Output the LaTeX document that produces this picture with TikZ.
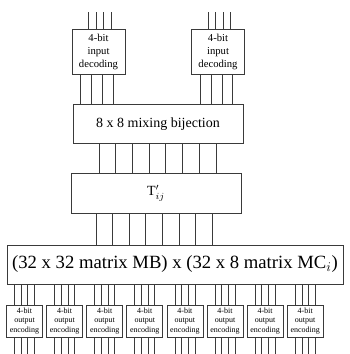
\documentclass[tikz,border=0pt]{standalone}
\usepackage{fontspec}
\setmainfont{Liberation Serif}
\usetikzlibrary{positioning,calc}
\definecolor{linec}{HTML}{3A3A3A}
\tikzset{
  blk/.style={draw=linec,line width=0.6pt,fill=white,inner sep=0pt,align=center},
  decbox/.style={blk,minimum width=39.75pt,minimum height=33.75pt,font=\fontsize{8}{9.75}\selectfont},
  encbox/.style={blk,minimum width=27pt,minimum height=24pt,font=\fontsize{6}{7}\selectfont},
  wide/.style={blk,minimum width=127.5pt,minimum height=29pt},
  wire/.style={draw=linec,line width=0.6pt},
}

\begin{document}
\begin{tikzpicture}[x=0.75pt,y=-0.75pt]
  \useasboundingbox (0,0) rectangle (350,354);
  \coordinate (top) at (0,12);
  \coordinate (bot) at (0,354);
  % blocks
  \node[decbox] (decL) at (98.5,51.5) {4-bit\\input\\decoding};
  \node[decbox] (decR) at (218,51.5) {4-bit\\input\\decoding};
  \node[wide,font=\fontsize{10.5}{12}\selectfont] (mix) at (158,124) {8 x 8 mixing bijection};
  \node[wide,minimum height=30pt,font=\fontsize{10.5}{12}\selectfont] (tij) at (156,193) {$\mathrm{T}'_{ij}$};
  \node[blk,minimum width=252pt,minimum height=29.25pt,font=\fontsize{14}{16}\selectfont] (mb) at (175,264.5) {(32 x 32 matrix MB) x (32 x 8 matrix MC$_i$)};
  \foreach \i in {1,...,8}
    \node[encbox] (enc\i) at ({24.5+40.1*(\i-1)},321) {4-bit\\output\\encoding};
  % wires
  \foreach \d in {decL,decR} {
    \foreach \dx in {-10,-2.5,5,12.5}
      \draw[wire] ($(\d.north)+(\dx,0)$) -- ($(\d.north |- top)+(\dx,0)$);
    \foreach \dx in {-18,-7,4,14.5}
      \draw[wire] ($(\d.south)+(\dx,0)$) -- ($(\d.south |- mix.north)+(\dx,0)$);
  }
  \foreach \k in {0,...,7} {
    \draw[wire] ($(mix.south)+({-59+16.7*\k},0)$) -- ($(mix.south |- tij.north)+({-59+16.7*\k},0)$);
    \draw[wire] ($(tij.south)+({-60+16.6*\k},0)$) -- ($(tij.south |- mb.north)+({-60+16.6*\k},0)$);
  }
  \foreach \i in {1,...,8}
    \foreach \dx in {-10,-3.3,3.3,10} {
      \draw[wire] ($(enc\i.north)+(\dx,0)$) -- ($(enc\i.north |- mb.south)+(\dx,0)$);
      \draw[wire] ($(enc\i.south)+(\dx,0)$) -- ($(enc\i.south |- bot)+(\dx,0)$);
    }
\end{tikzpicture}
\end{document}
